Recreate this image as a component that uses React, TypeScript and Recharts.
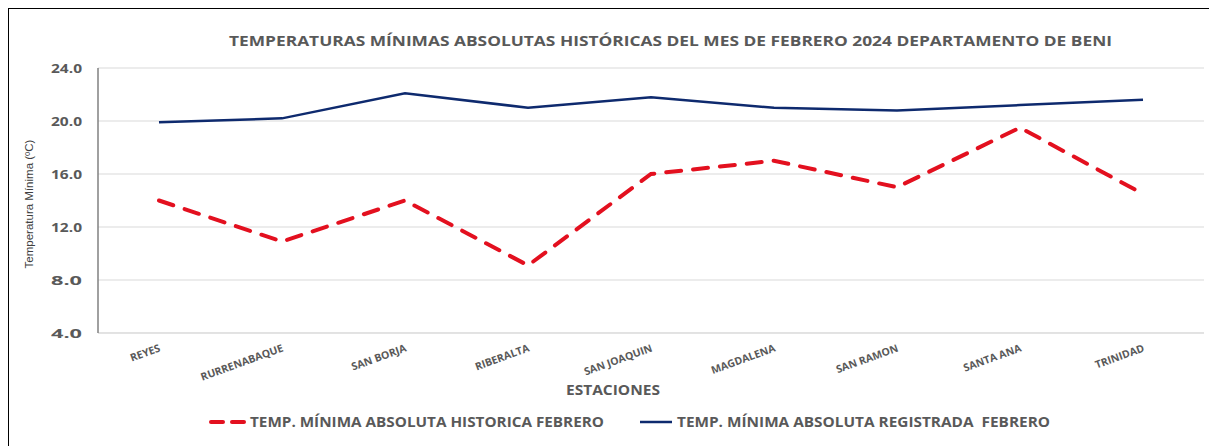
import React from "react";
import { CartesianGrid, Line, LineChart, XAxis, YAxis } from "recharts";

const ESTACIONES = [
  "REYES",
  "RURRENABAQUE",
  "SAN BORJA",
  "RIBERALTA",
  "SAN JOAQUIN",
  "MAGDALENA",
  "SAN RAMON",
  "SANTA ANA",
  "TRINIDAD",
];
const HISTORICA = [14.0, 10.9, 14.0, 9.1, 16.0, 17.0, 15.0, 19.5, 14.5];
const REGISTRADA = [19.9, 20.2, 22.1, 21.0, 21.8, 21.0, 20.8, 21.2, 21.6];
const Y_TICKS = [4, 8, 12, 16, 20, 24];

const TITLE = "TEMPERATURAS MÍNIMAS ABSOLUTAS HISTÓRICAS DEL MES DE FEBRERO 2024 DEPARTAMENTO DE BENI";
const LEGEND_HIST = "TEMP. MÍNIMA ABSOLUTA HISTORICA FEBRERO";
const LEGEND_REG = "TEMP. MÍNIMA ABSOLUTA REGISTRADA  FEBRERO";

const data = ESTACIONES.map((name, i) => ({
  name,
  historica: HISTORICA[i],
  registrada: REGISTRADA[i],
}));

const FONT = "'Open Sans', Lato, sans-serif";
const GREY = "#595959";
const RED = "#e3101f";
const NAVY = "#0e2a6e";

// the source picture is stretched sideways, so the texts get a forced width
function StationTick(props: any) {
  const { x, y, payload } = props;
  return (
    <text
      x={x + 2}
      y={y + 10}
      transform={`rotate(-20, ${x + 2}, ${y + 10})`}
      textAnchor="end"
      fontFamily={FONT}
      fontSize={10.5}
      fontWeight={700}
      fill={GREY}
    >
      {payload.value}
    </text>
  );
}

function ValueTick(props: any) {
  const { x, y, payload } = props;
  return (
    <text
      x={x}
      y={y + 5}
      textAnchor="end"
      textLength={31}
      lengthAdjust="spacingAndGlyphs"
      fontFamily={FONT}
      fontSize={13}
      fontWeight={700}
      fill={GREY}
    >
      {Number(payload.value).toFixed(1)}
    </text>
  );
}

export default function App() {
  return (
    <div style={{ position: "relative", width: 1217, height: 446, marginLeft: -8, marginTop: -8, background: "#fff" }}>
      <div
        style={{
          position: "absolute",
          left: 7,
          top: 7,
          width: 1210,
          height: 439,
          borderTop: "2px solid #000",
          borderLeft: "2px solid #000",
          boxSizing: "border-box",
        }}
      />
      <LineChart
        width={1217}
        height={446}
        data={data}
        margin={{ top: 68, right: 13, bottom: 53, left: 38 }}
        style={{ position: "absolute", left: 0, top: 0 }}
      >
        <CartesianGrid vertical={false} stroke="#d9d9d9" strokeWidth={1} />
        <XAxis
          dataKey="name"
          height={60}
          padding={{ left: 61, right: 61 }}
          axisLine={{ stroke: "#d9d9d9" }}
          tickLine={false}
          tick={<StationTick />}
          interval={0}
        />
        <XAxis xAxisId="top" orientation="top" height={0} tick={false} tickLine={false} axisLine={{ stroke: "#808080", strokeWidth: 1.5 }} />
        <YAxis
          width={60}
          domain={[4, 24]}
          ticks={Y_TICKS}
          axisLine={{ stroke: "#808080", strokeWidth: 1.5 }}
          tickLine={false}
          tickSize={0}
          tickMargin={16}
          tick={<ValueTick />}
        />
        <YAxis yAxisId="right" orientation="right" width={0} tick={false} tickLine={false} axisLine={{ stroke: "#808080", strokeWidth: 1.5 }} />
        <Line
          dataKey="historica"
          stroke={RED}
          strokeWidth={4}
          strokeDasharray="15 12"
          strokeLinecap="round"
          dot={false}
          type="linear"
          isAnimationActive={false}
        />
        <Line
          dataKey="registrada"
          stroke={NAVY}
          strokeWidth={2.5}
          dot={false}
          type="linear"
          isAnimationActive={false}
        />
      </LineChart>
      <svg width={1217} height={446} style={{ position: "absolute", left: 0, top: 0, pointerEvents: "none" }}>
        <text
          x={229}
          y={46}
          textLength={883}
          lengthAdjust="spacingAndGlyphs"
          fontFamily={FONT}
          fontSize={15}
          fontWeight={700}
          fill={GREY}
        >
          {TITLE}
        </text>
        <text
          x={33}
          y={204}
          textAnchor="middle"
          transform="rotate(-90, 33, 204)"
          fontFamily="'Liberation Sans Narrow', 'Arial Narrow', sans-serif"
          fontSize={11.5}
          fill="#404040"
        >
          Temperatura Mínima (ºC)
        </text>
        <text
          x={566}
          y={395}
          textLength={94}
          lengthAdjust="spacingAndGlyphs"
          fontFamily={FONT}
          fontSize={14}
          fontWeight={700}
          fill={GREY}
        >
          ESTACIONES
        </text>
        <line x1={211} y1={422} x2={223} y2={422} stroke={RED} strokeWidth={4} strokeLinecap="round" />
        <line x1={232} y1={422} x2={244} y2={422} stroke={RED} strokeWidth={4} strokeLinecap="round" />
        <text
          x={250}
          y={427}
          textLength={354}
          lengthAdjust="spacingAndGlyphs"
          fontFamily={FONT}
          fontSize={13.5}
          fontWeight={700}
          fill={GREY}
        >
          {LEGEND_HIST}
        </text>
        <line x1={640} y1={422} x2={672} y2={422} stroke={NAVY} strokeWidth={2.5} />
        <text
          x={677}
          y={427}
          textLength={373}
          lengthAdjust="spacingAndGlyphs"
          fontFamily={FONT}
          fontSize={13.5}
          fontWeight={700}
          fill={GREY}
          style={{ whiteSpace: "pre" }}
        >
          {LEGEND_REG}
        </text>
      </svg>
    </div>
  );
}
